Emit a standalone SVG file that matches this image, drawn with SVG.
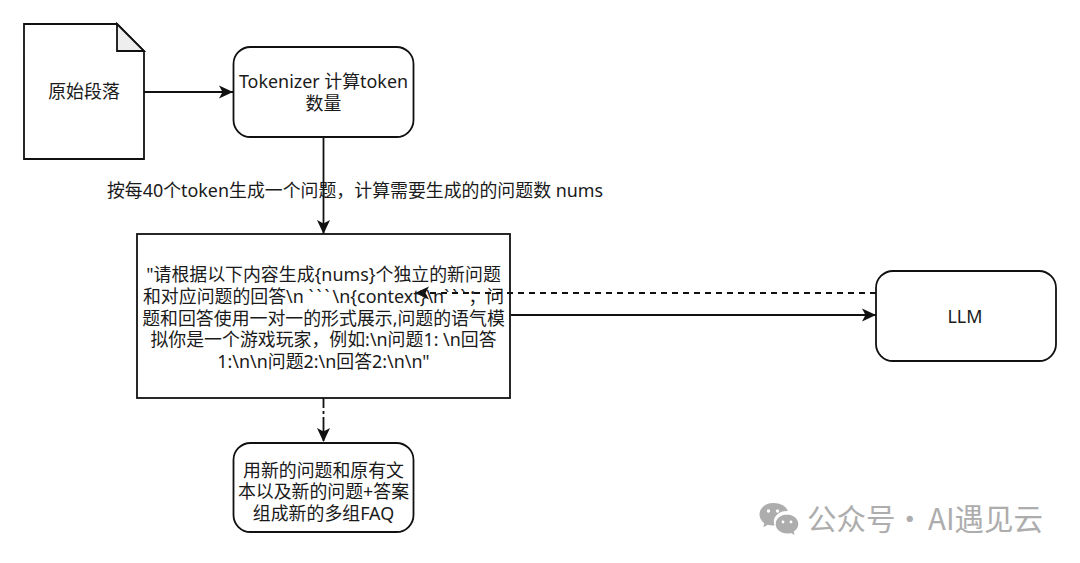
<svg xmlns="http://www.w3.org/2000/svg" width="1080" height="563" viewBox="0 0 1080 563">
<style>
text{font-family:"Noto Sans","Noto Sans CJK SC",sans-serif;font-size:17.9px;fill:#1a1a1a;text-anchor:middle}
.n{fill:#fff;stroke:#111;stroke-width:1.8}
.c{fill:none;stroke:#111;stroke-width:1.8}
.d{stroke-dasharray:6 5}
.wm{font-family:"Noto Sans CJK SC","Noto Sans",sans-serif;font-size:29.500px;fill:#adadad;text-anchor:start}
</style>
<defs>
<marker id="a" markerUnits="userSpaceOnUse" markerWidth="16" markerHeight="16" refX="14" refY="8" orient="auto"><path d="M0 1.500L14 8L0 14.500L3.500 8Z" fill="#111"/></marker>
</defs>
<rect width="1080" height="563" fill="#fff"/>
<g id="connectors">
<path class="c" d="M144 92H233" marker-end="url(#a)"/>
<path class="c" d="M323.500 137V234" marker-end="url(#a)"/>
<path class="c" d="M511 315H876" marker-end="url(#a)"/>
<path class="c d" d="M876 293H415" marker-end="url(#a)"/>
<path class="c" stroke-dasharray="10 3 3 3 24" d="M323.500 398V442" marker-end="url(#a)"/>
</g>
<g id="edge-label"><text x="355" y="197">按每40个token生成一个问题，计算需要生成的的问题数 nums</text></g>
<g id="node-doc">
<path class="n" d="M24 24H117L144 51V159H24Z"/>
<path d="M117 24L144 51H117Z" fill="#eee" stroke="#111" stroke-width="1.800"/>
<text x="84" y="98">原始段落</text>
</g>
<g id="node-tokenizer">
<rect class="n" x="233.500" y="47" width="180" height="90" rx="17"/>
<text x="323.500" y="88">Tokenizer 计算token</text>
<text x="323.500" y="110">数量</text>
</g>
<g id="node-prompt">
<rect x="137" y="234" width="373" height="164" fill="none" stroke="#111" stroke-width="1.800"/>
<text x="323.500" y="281">"请根据以下内容生成{nums}个独立的新问题</text>
<text x="323.500" y="303">和对应问题的回答\n <tspan letter-spacing="3">```</tspan>\n{context}\n<tspan letter-spacing="3">```</tspan>；问</text>
<text x="323.500" y="325">题和回答使用一对一的形式展示,问题的语气模</text>
<text x="323.500" y="346">拟你是一个游戏玩家，例如:\n问题1: \n回答</text>
<text x="323.500" y="368">1:\n\n问题2:\n回答2:\n\n"</text>
</g>
<g id="node-llm">
<rect class="n" x="876" y="271" width="180" height="90" rx="17"/>
<text x="965" y="323">LLM</text>
</g>
<g id="node-faq">
<rect class="n" x="233.500" y="443" width="180" height="89" rx="17"/>
<text x="323.500" y="477">用新的问题和原有文</text>
<text x="323.500" y="498">本以及新的问题+答案</text>
<text x="323.500" y="520">组成新的多组FAQ</text>
</g>
<path fill="#adadad" d="M773 503c-7.500 0-13.500 5-13.500 11.500 0 3.500 2 6.500 4.800 8.700l-1 4 4.500-2.400c1.700.5 3.300.8 5.200.8l1.500-.1c-.5-1.300-.7-2.500-.7-3.800 0-6 5.700-10.800 12.700-10.800h1.300c-1.500-4.600-7-7.900-14.300-7.900z"/>
<path fill="#adadad" d="M787 514.500c-6.300 0-11.300 4.300-11.300 9.500s5 9.500 11.300 9.500c1.400 0 2.700-.2 4-.6l3.600 2-.9-3.300c2.800-1.800 4.600-4.500 4.600-7.600 0-5.200-5.200-9.500-11.300-9.500z"/>
<g fill="#fff"><circle cx="768.500" cy="511" r="1.700"/><circle cx="777.500" cy="511" r="1.700"/><circle cx="783" cy="522" r="1.400"/><circle cx="791" cy="522" r="1.400"/></g>
<text class="wm" x="807" y="530">公众号</text><text class="wm" x="895" y="530">·</text><text class="wm" x="928" y="530">AI遇见云</text>
</svg>
